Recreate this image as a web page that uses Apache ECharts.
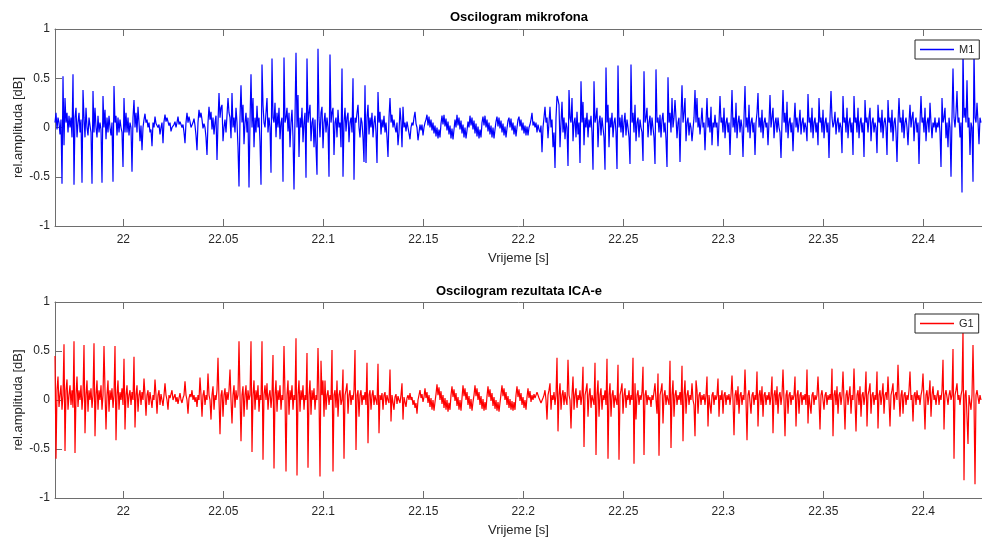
<!DOCTYPE html>
<html>
<head>
<meta charset="utf-8">
<script src="https://cdn.jsdelivr.net/npm/echarts@6/dist/echarts.min.js"></script>
<style>html,body{margin:0;padding:0;background:#fff}#c{width:982px;height:537px}</style>
</head>
<body>
<div id="c"></div>
<script>
// sampling: one value every 0.5 ms starting at t0 (seconds)
const t0 = 21.96585;
const dt = 0.0005;
const xMin = 21.96585, xMax = 22.42935;
const xTicks = [22, 22.05, 22.1, 22.15, 22.2, 22.25, 22.3, 22.35, 22.4];
const yTicks = [-1, -0.5, 0, 0.5, 1];
const titles = ['Oscilogram mikrofona', 'Oscilogram rezultata ICA-e'];
const seriesNames = ['M1', 'G1'];
const seriesColors = ['#0000ff', '#ff0000'];

// M1 – microphone
const micM1 = [
0.05,0.15,-0.02,0.1,0.05,-0.07,0.08,-0.57,0.52,-0.18,
0.3,0.05,0.15,-0.05,0.12,0,0.1,-0.1,0.54,-0.58,
0.1,0.2,-0.1,0.05,0.15,-0.05,0.08,-0.56,0.38,0.1,
-0.1,0.2,0,-0.08,0.1,0.02,-0.05,-0.57,0.37,-0.05,
0.2,0,-0.1,0.12,-0.05,0.05,-0.02,-0.56,0.32,0,
0.18,-0.12,0.1,-0.05,0.12,0,-0.08,0.05,-0.55,0.42,
0.05,0.12,-0.08,0.1,-0.05,0.08,0,-0.05,-0.4,0.3,
-0.05,0.15,-0.05,0.1,-0.08,0.05,0,-0.45,0.1,0.28,
0,0.15,-0.05,0.21,0.05,-0.14,0.02,-0.23,0,0.08,
0.14,0.05,0.08,0,0.05,-0.05,-0.02,-0.19,0.05,0,
0.11,0.04,0.06,0,0.03,-0.07,0,0.05,-0.16,0.06,
0.13,0.06,0.1,0.1,0.02,0.05,-0.04,0,-0.02,0.03,
0.06,0,0.05,0.11,0.03,0.06,0.03,0,0.03,-0.05,
-0.16,0.05,0.15,0.05,0.11,0.06,0,-0.02,0.05,0.09,
0.02,-0.08,-0.23,0.05,0.18,0.1,0.15,0.08,-0.01,0.04,
0,-0.1,-0.28,0.05,0.21,0.08,0.16,-0.02,0.1,-0.07,
0.05,0.12,-0.33,0.05,0.35,0.1,0.2,0.23,-0.14,0,
0.08,-0.05,-0.07,0.3,0.15,0.1,-0.11,0.35,0,0.1,
-0.05,0.2,0.05,-0.2,-0.6,0.1,0.43,0.05,0.23,-0.17,
0.05,0.15,-0.05,0.1,-0.61,0.05,0.54,0,0.3,-0.2,
0.1,-0.05,0.22,0,0.1,-0.15,-0.58,0.64,0.23,0.05,
0,0.15,0.3,-0.05,0.1,0,-0.46,0.7,0.1,0.05,
0.25,-0.1,0.15,0,0.2,-0.12,0.05,0.1,-0.55,0.71,
0.05,0.1,0.2,-0.04,0.15,-0.2,0.05,0.18,-0.1,-0.63,
0.1,0.76,0,0.33,-0.3,0.1,0,0.2,-0.15,0.05,
0.15,-0.51,0.7,0.05,0.15,0.23,-0.14,0.05,0.1,-0.2,
0.08,0.1,-0.48,0.8,0.1,-0.1,0.15,0.21,-0.21,0.05,
0.15,-0.05,0.1,0,-0.5,0.74,0.05,0.15,0.2,-0.28,
0.05,0.1,-0.1,0.18,0,0.05,-0.2,0.6,-0.5,0.05,
0.2,-0.04,0.1,0.15,-0.15,0.05,0.1,-0.05,0.5,-0.53,
0.1,0.05,0.15,0.23,0,-0.1,0.1,0.05,-0.1,-0.35,
0.43,-0.36,0.1,0.23,-0.07,0.1,0,0.15,-0.1,0.05,
0.12,-0.05,-0.36,0.36,0.05,0.16,-0.07,0.08,0,0.12,
-0.05,0.05,-0.1,-0.3,0.1,0.3,0.05,0.13,0,0.08,
0,-0.05,0.05,-0.18,-0.05,0.2,0.06,-0.2,0.21,0,
0.05,-0.04,0.06,0,-0.06,-0.12,0,0.05,0.02,0.1,
0.16,0.04,0,-0.13,-0.05,0.03,-0.03,0.03,-0.08,0,
0.05,0.08,0.13,0.02,0.11,0,0.08,-0.03,0.05,-0.06,
0.02,-0.09,0,-0.11,-0.02,-0.1,0.04,0.12,0.03,0.13,
0.01,0.09,-0.03,0.06,-0.07,0.02,-0.11,-0.01,-0.12,-0.02,
0.08,0,0.13,0.02,0.1,-0.02,0.07,-0.06,0.03,-0.1,
0,-0.11,-0.03,0.06,0,0.12,0.02,0.1,-0.02,0.07,
-0.06,0.04,-0.09,0.01,-0.11,-0.02,-0.1,0.05,0.11,0.02,
0.12,0,0.08,-0.04,0.05,-0.07,0.02,-0.1,0,-0.11,
-0.02,0.06,0.11,0.01,0.1,-0.01,0.07,-0.05,0.04,-0.08,
0.01,-0.1,-0.01,0.07,0.1,0,0.09,-0.03,0.05,-0.07,
0.02,-0.09,0,0.08,0.11,0.01,0.08,-0.03,0.05,-0.06,
0.02,-0.08,0.01,-0.08,0,0.03,0.08,0.15,0.02,0.06,
0,0.05,-0.05,0.03,-0.02,-0.05,0.02,-0.25,0,0.1,
0.21,0.05,0.1,-0.11,0.05,0.21,0,0.08,-0.2,-0.05,
-0.41,0.1,0.32,0.28,0.23,-0.2,0.05,0.26,-0.05,0.1,
-0.12,0.05,0,-0.39,0.38,0.1,0.05,0.3,-0.14,0.05,
0.1,-0.1,0.16,-0.07,0.05,-0.36,0.47,0.05,0.26,-0.18,
0.1,0,0.15,-0.1,0.08,0,0.12,-0.05,-0.43,0.47,
0.05,0.1,0.2,-0.2,0.05,0.12,-0.08,0.1,0,-0.1,
-0.43,0.61,0.05,0.23,-0.2,0.1,0,0.15,-0.1,0.05,
0.1,-0.05,-0.42,0.63,0,0.1,-0.05,0.13,-0.1,0.05,
0.15,-0.08,0.08,0,-0.1,-0.37,0.64,0.05,0.15,-0.05,
0.23,-0.14,0.05,0.1,-0.1,0.08,0,-0.05,-0.34,0.57,
0.05,0.1,0.2,-0.1,0.05,0.12,-0.08,0.1,0,-0.1,
-0.37,0.59,0.05,0.1,-0.05,0.13,-0.1,0.08,0.15,-0.05,
0.05,-0.12,-0.4,0.51,0.05,0.15,-0.05,0.3,0,0.1,
0.28,0.1,-0.11,0.05,0.1,-0.35,0.1,0.43,0.05,0.15,
0.3,-0.14,0.05,0.1,-0.08,0.05,0,-0.14,-0.16,0.1,
0.38,0.05,0.3,0,0.1,-0.07,0.05,0.2,0,0.05,
-0.23,0.05,0.3,0,0.1,-0.05,0.21,-0.18,0.05,0,
0.13,0,0.05,-0.19,0.05,0.32,0.05,0.1,-0.05,0.2,
-0.11,0.05,0.1,-0.05,0.05,-0.28,0.05,0.38,0,0.1,
-0.05,0.25,-0.11,0.05,0.12,-0.05,0.08,0,-0.3,0.1,
0.42,0,0.1,-0.05,0.23,-0.11,0.05,0.1,-0.05,0.05,
-0.28,0.05,0.15,0.35,0,0.1,-0.05,0.18,-0.11,0.05,
0.1,0,0.05,-0.18,0.05,0.33,0,0.1,0.2,-0.11,
0.05,0.1,-0.05,0.1,0,-0.05,-0.31,0.05,0.38,0.05,
0.15,-0.05,0.26,-0.11,0.05,0.1,-0.05,0.05,-0.24,0.05,
0.25,0,0.1,-0.05,0.05,0.18,-0.07,0.05,0.1,-0.05,
0.05,0,-0.14,0.34,0.05,0.1,-0.05,0.2,-0.11,0.05,
0.1,-0.05,0.05,-0.18,0.3,0.05,0.1,-0.05,0.18,-0.11,
0.05,0.1,-0.05,0.05,-0.31,0.1,0.37,0.1,0,0.05,
0.16,-0.07,0.05,0.1,-0.05,0.05,0,-0.26,0.32,0.05,
0.1,-0.05,0.2,-0.11,0.05,0.1,-0.05,0.05,-0.28,0.32,
0.05,0.1,-0.05,0.2,-0.11,0.05,0.1,-0.05,0.05,-0.3,
0.28,0.05,0.1,-0.05,0.1,0.2,-0.14,0.05,0.1,-0.05,
0.05,0,-0.26,0.23,0.05,0.1,-0.05,0.18,-0.11,0.05,
0.1,0,-0.28,0.28,0.05,0.1,-0.05,0.18,-0.14,0.05,
0.1,-0.05,-0.35,0.05,0.3,0.05,0.1,-0.05,0.18,-0.11,
0.05,0.1,0,-0.18,0.05,0.23,0,0.1,0.16,-0.14,
0.05,0.1,-0.05,0.05,-0.37,0.05,0.32,0.05,0.1,-0.05,
0.2,-0.14,0.05,0.1,-0.05,0.25,0.05,-0.11,0.05,0,
0.1,-0.05,0.05,0,0.1,-0.05,-0.4,0.3,0.05,0.1,
0.2,-0.11,0.05,-0.2,0.1,0,-0.5,0.1,0.6,0.1,
0,0.15,0.37,0.05,0.1,-0.1,0.05,-0.66,0.8,0.1,
0.2,0.05,0.48,0,0.1,-0.28,0.05,0,-0.55,0.78,
0.1,0.05,0.25,0.06,-0.17,0.1,0.05
];

// G1 – ICA result
const icaG1 = [
0.45,-0.6,0.1,0.24,-0.07,0.05,0.15,-0.1,0.05,0.57,
-0.52,0.1,0.21,-0.1,0.05,0.15,-0.05,0.1,-0.08,0.6,
-0.54,0.05,0.24,-0.07,0.1,0,0.15,-0.1,0.05,0.56,
-0.34,0.05,0.2,-0.12,0.1,0,0.12,-0.08,0.05,0.58,
-0.37,0.05,0.2,-0.1,0.1,0,0.15,-0.1,0.05,0.55,
0.1,-0.3,0.05,0.2,-0.12,0.1,0,0.12,-0.08,0.05,
0.55,-0.41,0.05,0.2,-0.1,0.08,0,0.12,-0.05,0.42,
-0.3,0.05,0.15,-0.08,0.05,0.1,-0.05,0.08,0,0.44,
-0.28,0.05,0.15,-0.12,0.05,0.1,-0.05,0.08,0,0.22,
0.05,-0.16,0.05,0.1,-0.05,0.08,0,-0.08,0.05,0,
0.21,0.05,-0.14,0.05,0.1,-0.05,0.06,0,-0.06,0.05,
0.17,0.05,0,-0.1,0.05,0.02,0.06,0.1,0,0.03,
0.06,-0.02,0.03,-0.04,0.02,0.07,0,-0.03,0.02,0.05,
0.19,0.05,0,-0.14,0.02,0.06,0.03,0.1,0,0.05,
-0.02,0.03,-0.07,0.05,0,0.23,0.05,-0.17,0.05,0.1,
-0.05,0.05,0,0.27,0.05,0,-0.2,0.05,0.14,-0.1,
0.05,0,0.1,0.43,0,-0.35,0.05,0.1,-0.17,0.05,
0.12,-0.05,0.08,0,0.1,0.31,0,-0.24,0.05,0.15,
-0.08,0.1,0,0.05,0.6,0.05,-0.42,0.05,0.14,-0.17,
0.05,0.15,-0.1,0.1,0,0.05,0.6,-0.53,0.05,0.2,
-0.1,0.1,0,0.15,-0.12,0.05,0,0.6,-0.61,0.05,
0.15,0,0.17,-0.1,0.05,0.1,-0.08,0.05,0.46,-0.7,
0.05,0.2,-0.12,0.1,0,0.15,-0.1,0.05,0,0.55,
0.05,-0.73,0.05,0.2,-0.15,0.1,0,0.15,-0.1,0.05,
0,0.63,-0.77,0.05,0.2,-0.12,0.1,0,0.15,-0.1,
0.05,0,0.48,-0.69,0.05,0.2,-0.15,0.1,0,0.12,
-0.1,0.05,0,0.53,0.05,-0.78,0.4,0.05,0.2,-0.17,
0.2,-0.1,0.05,0.1,-0.05,0.05,0,0.51,-0.73,0.05,
0.1,-0.08,0.2,-0.17,0.05,0.1,-0.05,0,0.31,-0.6,
0.05,0.1,0.17,-0.14,0.05,0.1,-0.05,0.05,0,0.1,
0.51,-0.51,0.05,0.1,-0.17,0.05,0.1,-0.05,0.05,0,
0.08,-0.05,0.38,-0.44,0.05,0.1,-0.1,0.05,0.1,-0.05,
0.05,0,-0.05,0.37,-0.34,0.05,0,0.07,-0.1,0.05,
0.08,-0.05,0.05,0,-0.03,0.31,-0.22,0.05,0.07,-0.1,
0.03,0.06,-0.04,0.04,0,-0.03,0.05,0.17,-0.2,0.03,
0.03,-0.07,0.02,0.05,0,0.07,0,0.03,-0.05,0,
-0.08,-0.03,-0.14,0,0.05,0.1,0.02,0.06,-0.02,0.03,
0.12,0.02,0.08,-0.03,0.05,-0.07,0.02,-0.1,0,-0.11,
-0.02,0.06,0.16,0.05,0.13,0,0.09,-0.04,0.05,-0.08,
0.02,-0.1,0,-0.12,-0.03,-0.1,0.05,0.14,0.03,0.11,
-0.01,0.07,-0.06,0.03,-0.1,0,-0.11,0.02,0.15,0.04,
0.12,0,0.08,-0.05,0.04,-0.09,0.01,-0.11,-0.02,0.05,
0.15,0.04,0.12,0,0.08,-0.05,0.04,-0.09,0.01,-0.11,
-0.02,-0.1,0.04,0.14,0.03,0.11,-0.01,0.07,-0.06,0.03,
-0.09,0,-0.11,-0.02,-0.12,-0.03,0.06,0.15,0.04,0.12,
0,0.08,-0.05,0.04,-0.08,0.01,-0.1,-0.01,-0.11,-0.02,
-0.1,0.05,0.14,0.03,0.11,-0.01,0.07,-0.05,0.03,-0.08,
0,-0.1,0.03,0.12,0.02,0.09,-0.02,0.05,0,0.06,
0.02,0.05,0.08,0.1,0.02,0.04,-0.03,-0.03,0.02,0.05,
0.1,0,-0.2,0.05,0.1,0.17,-0.1,0.05,0,0.08,
-0.05,0.05,0.43,-0.32,0.05,0.17,-0.1,0.05,0.1,-0.05,
0.08,0,-0.05,0.41,0.05,0,-0.29,0.05,0.24,-0.1,
0.05,0.12,-0.08,0.05,0,0.1,-0.05,0.05,0.34,-0.48,
0.05,0.1,0.17,-0.17,0.05,0.12,-0.08,0.05,0,-0.05,
0.38,-0.56,0.05,0.2,-0.17,0.05,0.12,-0.1,0.05,0,
0.1,-0.05,0.42,-0.6,0.05,0.17,-0.17,0.05,0.1,-0.08,
0.05,0,-0.05,0.36,-0.61,0.05,0.1,0.17,-0.14,0.05,
0.12,-0.08,0.05,0,0.1,-0.05,0.05,0,0.43,-0.65,
0.17,-0.2,0.05,0.1,-0.05,0.05,0,0.08,0.34,-0.56,
0.05,0.1,-0.05,0.05,0,0.03,-0.07,0.05,0,0.08,
0.17,0,-0.14,0.27,-0.57,0.05,0.1,0.17,-0.24,0.05,
0.1,-0.05,0.05,0,-0.05,0.4,-0.49,0.05,0.2,-0.17,
0.05,0.1,-0.05,0.05,0,0.08,-0.05,0.35,-0.42,0.05,
0.2,-0.14,0.05,0.1,-0.05,0.05,0,0.17,0,-0.05,
-0.37,0.2,0.1,-0.14,0.05,0.08,-0.05,0.05,0,0.06,
-0.05,0.05,0.24,-0.27,0.05,0.07,-0.14,0.05,0.08,-0.05,
0.05,0,0.05,0.22,-0.17,0.05,0,0.1,-0.14,0.05,
0.08,-0.05,0.05,0,0.06,-0.05,0.05,0.25,0,-0.36,
0.05,0.1,-0.05,0.14,-0.14,0.05,0.08,-0.05,0.05,0,
0.31,0,-0.41,0.05,0.1,0.1,-0.14,0.05,0.08,-0.05,
0.05,0,0.29,-0.27,0.05,0.1,-0.05,0.14,-0.17,0.05,
0.08,-0.05,0.05,0,0.08,-0.05,0.05,0.24,-0.34,0.05,
0.1,-0.05,0.14,-0.14,0.05,0.08,-0.05,0.05,0.31,0,
-0.37,0.05,0.1,-0.14,0.05,0.08,-0.05,0.05,0,0.05,
0.24,-0.27,0.05,0.1,-0.14,0.05,0.08,-0.05,0.05,0,
0.06,-0.05,0.31,-0.24,0.05,0.07,-0.14,0.05,0.08,-0.05,
0.05,0,0.05,0.24,0,-0.3,0.05,0.1,0.1,-0.1,
0.05,0.08,-0.05,0.05,0,0.06,0,0.32,-0.37,0.05,
0.1,-0.05,0.14,-0.14,0.05,0.08,-0.05,0.05,0.29,0,
-0.3,0.05,0.1,-0.05,0.05,0.14,-0.14,0.05,0,0.32,
0,-0.32,0.05,0.1,-0.05,0.14,-0.17,0.05,0.08,-0.05,
0.05,0.29,-0.27,0.05,0.1,0.17,-0.14,0.05,0.08,-0.05,
0.05,0,0.29,-0.29,0.05,0.1,-0.05,0.05,0.17,-0.14,
0.05,0.08,0,0.24,0,-0.27,0.05,0.1,0.17,-0.1,
0.05,0.08,0,0.36,0.05,-0.17,0.05,0.1,-0.14,0.05,
0.08,-0.05,0.05,0,0.1,0.29,0,0.05,-0.22,0.05,
0.08,-0.05,0.1,0,0.05,-0.05,0.05,0.1,0.27,0,
-0.3,0.05,0.1,-0.05,0.05,0.2,-0.17,0.05,0.14,0,
0.05,-0.05,0.05,0.1,-0.05,0.05,0,0.1,0.41,-0.3,
0.05,0.1,0.03,-0.05,0.05,0.1,0,0.05,0.52,-0.6,
0.05,0.1,0.17,0,0.05,-0.05,0.05,0.1,0.72,-0.82,
0.05,0.1,0.1,-0.45,0.05,0.03,-0.1,0.05,0.56,0,
-0.86,0.05,0.1,0.1,-0.04,0.05,0
];

const toPairs = arr => arr.map((v, i) => [t0 + i * dt, v]);

const FONT = '"Liberation Sans", Arial, Helvetica, sans-serif';
const AX = '#262626';
const LINE = '#6e6e6e';

function xAxisBottom(gi) {
  return {
    type: 'value', gridIndex: gi, min: xMin, max: xMax, position: 'bottom',
    name: 'Vrijeme [s]', nameLocation: 'middle', nameGap: 26, nameMoveOverlap: false,
    nameTextStyle: { color: AX, fontSize: 13, fontFamily: FONT },
    axisLine: { show: true, onZero: false, lineStyle: { color: LINE, width: 1 } },
    axisTick: { show: true, inside: true, length: 7, customValues: xTicks, lineStyle: { color: LINE } },
    axisLabel: { show: true, customValues: xTicks, margin: 8, color: AX, fontSize: 12, fontFamily: FONT },
    splitLine: { show: false }
  };
}
function xAxisTop(gi) {
  return {
    type: 'value', gridIndex: gi, min: xMin, max: xMax, position: 'top',
    axisLine: { show: true, onZero: false, lineStyle: { color: LINE, width: 1 } },
    axisTick: { show: true, inside: true, length: 7, customValues: xTicks, lineStyle: { color: LINE } },
    axisLabel: { show: false },
    splitLine: { show: false }
  };
}
function yAxisLeft(gi) {
  return {
    type: 'value', gridIndex: gi, min: yTicks[0], max: yTicks[yTicks.length - 1], interval: 0.5, position: 'left',
    name: 'rel.amplituda [dB]', nameLocation: 'middle', nameGap: 30, nameRotate: 90, nameMoveOverlap: false,
    nameTextStyle: { color: AX, fontSize: 13, fontFamily: FONT },
    axisLine: { show: true, onZero: false, lineStyle: { color: LINE, width: 1 } },
    axisTick: { show: true, inside: true, length: 7, lineStyle: { color: LINE } },
    axisLabel: { show: true, margin: 5, color: AX, fontSize: 12, fontFamily: FONT },
    splitLine: { show: false }
  };
}
function legendFor(idx, top) {
  return {
    data: [{ name: seriesNames[idx], icon: 'rect', itemStyle: { color: seriesColors[idx], borderWidth: 0, opacity: 1 } }],
    left: 915, top: top, orient: 'vertical', padding: [4, 5],
    itemWidth: 34, itemHeight: 1.5,
    backgroundColor: '#fff', borderColor: AX, borderWidth: 1, borderRadius: 0,
    textStyle: { color: AX, fontSize: 11, fontFamily: FONT }, selectedMode: false
  };
}

const chart = echarts.init(document.getElementById('c'), null, { renderer: 'canvas' });
chart.setOption({
  animation: false,
  backgroundColor: '#ffffff',
  grid: [
    { left: 55, right: 0, top: 29, height: 197, containLabel: false, outerBoundsMode: 'none' },
    { left: 55, right: 0, top: 302, height: 196, containLabel: false, outerBoundsMode: 'none' }
  ],
  xAxis: [xAxisBottom(0), xAxisTop(0), xAxisBottom(1), xAxisTop(1)],
  yAxis: [yAxisLeft(0), yAxisLeft(1)],
  legend: [legendFor(0, 40), legendFor(1, 314)],
  graphic: [
    { type: 'text', x: 519, y: 17, z: 10, style: { text: titles[0], align: 'center', verticalAlign: 'middle', textAlign: 'center', textVerticalAlign: 'middle', fill: '#000', font: 'bold 13px ' + FONT } },
    { type: 'text', x: 519, y: 291, z: 10, style: { text: titles[1], align: 'center', verticalAlign: 'middle', textAlign: 'center', textVerticalAlign: 'middle', fill: '#000', font: 'bold 13px ' + FONT } }
  ],
  series: [
    { name: seriesNames[0], type: 'line', xAxisIndex: 0, yAxisIndex: 0, data: toPairs(micM1),
      symbol: 'none', showSymbol: false, sampling: null, clip: true,
      lineStyle: { color: seriesColors[0], width: 1.2 }, itemStyle: { color: seriesColors[0] } },
    { name: seriesNames[1], type: 'line', xAxisIndex: 2, yAxisIndex: 1, data: toPairs(icaG1),
      symbol: 'none', showSymbol: false, sampling: null, clip: true,
      lineStyle: { color: seriesColors[1], width: 1.2 }, itemStyle: { color: seriesColors[1] } }
  ]
});
</script>
</body>
</html>
